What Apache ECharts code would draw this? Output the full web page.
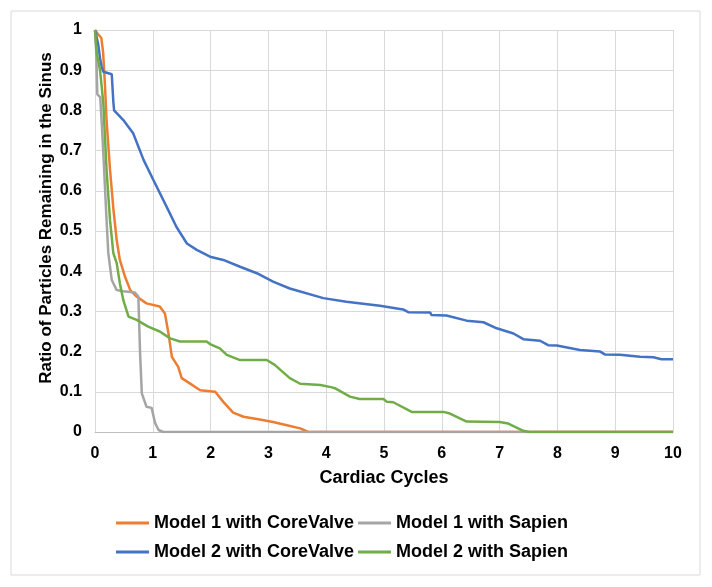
<!DOCTYPE html>
<html>
<head>
<meta charset="utf-8">
<script src="https://cdn.jsdelivr.net/npm/echarts@6/dist/echarts.min.js"></script>
<style>
html,body{margin:0;padding:0;background:#fff;}
#chart{width:712px;height:587px;}
</style>
</head>
<body>
<div id="chart"></div>
<script>
var seriesNames = ['Model 1 with CoreValve', 'Model 1 with Sapien', 'Model 2 with CoreValve', 'Model 2 with Sapien'];
var xTicks = [0,1,2,3,4,5,6,7,8,9,10];
var yTicks = [0,0.1,0.2,0.3,0.4,0.5,0.6,0.7,0.8,0.9,1];

var model1CoreValve = [[0,1],[0.05,0.99],[0.11,0.98],[0.14,0.945],[0.17,0.87],[0.2,0.776],[0.26,0.652],[0.32,0.552],[0.375,0.478],[0.43,0.428],[0.52,0.386],[0.61,0.353],[0.72,0.337],[0.89,0.32],[1.12,0.312],[1.21,0.295],[1.27,0.246],[1.33,0.187],[1.44,0.162],[1.5,0.134],[1.64,0.121],[1.82,0.104],[2.08,0.1],[2.22,0.075],[2.39,0.048],[2.57,0.038],[2.85,0.031],[3.08,0.025],[3.32,0.017],[3.55,0.009],[3.69,0],[10,0]];
var model1Sapien = [[0,1],[0.02,0.95],[0.04,0.84],[0.09,0.833],[0.12,0.76],[0.144,0.693],[0.2,0.527],[0.23,0.445],[0.29,0.378],[0.375,0.353],[0.49,0.35],[0.69,0.347],[0.75,0.337],[0.78,0.196],[0.81,0.096],[0.89,0.063],[0.98,0.06],[1.04,0.022],[1.1,0.005],[1.18,0],[10,0]];
var model2CoreValve = [[0,1],[0.057,0.963],[0.087,0.93],[0.115,0.909],[0.144,0.896],[0.29,0.89],[0.317,0.822],[0.33,0.8],[0.49,0.776],[0.66,0.743],[0.84,0.677],[1.01,0.627],[1.24,0.56],[1.41,0.51],[1.59,0.469],[1.76,0.453],[1.99,0.436],[2.22,0.428],[2.51,0.411],[2.8,0.395],[3.08,0.374],[3.37,0.357],[3.95,0.333],[4.35,0.324],[4.93,0.314],[5.33,0.305],[5.42,0.298],[5.8,0.297],[5.82,0.291],[6.08,0.29],[6.43,0.277],[6.72,0.273],[6.95,0.258],[7.24,0.245],[7.41,0.231],[7.7,0.227],[7.84,0.216],[7.99,0.215],[8.39,0.204],[8.74,0.2],[8.82,0.193],[9.08,0.192],[9.43,0.187],[9.66,0.186],[9.8,0.181],[10,0.181]];
var model2Sapien = [[0,1],[0.03,0.942],[0.087,0.9],[0.144,0.818],[0.2,0.652],[0.26,0.527],[0.317,0.445],[0.375,0.42],[0.43,0.37],[0.49,0.328],[0.58,0.287],[0.72,0.279],[0.92,0.262],[1.12,0.25],[1.3,0.233],[1.47,0.225],[1.93,0.225],[2.0,0.218],[2.16,0.208],[2.28,0.192],[2.51,0.179],[2.97,0.179],[3.11,0.167],[3.37,0.134],[3.55,0.12],[3.9,0.117],[4.1,0.111],[4.15,0.109],[4.41,0.088],[4.58,0.082],[4.99,0.082],[5.05,0.075],[5.16,0.074],[5.48,0.05],[6.03,0.05],[6.14,0.046],[6.43,0.026],[7.0,0.025],[7.15,0.021],[7.41,0.003],[7.51,0],[10,0]];

var colors = ['#ED7D31', '#A5A5A5', '#4472C4', '#70AD47'];
var allData = [model1CoreValve, model1Sapien, model2CoreValve, model2Sapien];
var FONT = '"Liberation Sans", Arial, sans-serif';

var chart = echarts.init(document.getElementById('chart'), null, {renderer: 'canvas'});

var series = allData.map(function (d, i) {
  return {
    name: seriesNames[i],
    type: 'line',
    data: d,
    showSymbol: false,
    symbol: 'none',
    animation: false,
    lineStyle: {color: colors[i], width: 2.5},
    itemStyle: {color: colors[i]},
    z: 2 + i
  };
});

var legendCommon = {
  icon: 'rect',
  itemWidth: 33,
  itemHeight: 3,
  itemGap: 4,
  padding: 0,
  orient: 'horizontal',
  left: 116,
  textStyle: {fontFamily: FONT, fontWeight: 'bold', fontSize: 18, color: '#000', padding: [0, 0, 0, 0]}
};

chart.setOption({
  backgroundColor: '#fff',
  animation: false,
  color: colors,
  grid: {left: 95, right: 39, top: 30, bottom: 155, containLabel: false},
  graphic: [
    {type: 'rect', shape: {x: 11, y: 11, width: 689, height: 564}, style: {fill: 'none', stroke: '#d9d9d9', lineWidth: 1}, z: -1},
    {type: 'text', x: 46, y: 218, rotation: Math.PI / 2,
     style: {text: 'Ratio of Particles Remaining in the Sinus', font: 'bold 17px "Liberation Sans", Arial, sans-serif', fill: '#000', align: 'center', verticalAlign: 'middle'}}
  ],
  legend: [
    Object.assign({}, legendCommon, {top: 514, data: [seriesNames[0], seriesNames[1]]}),
    Object.assign({}, legendCommon, {top: 543, data: [seriesNames[2], seriesNames[3]]})
  ],
  xAxis: {
    type: 'value',
    min: 0, max: 10, interval: 1,
    name: 'Cardiac Cycles',
    nameLocation: 'middle',
    nameGap: 37,
    nameTextStyle: {fontFamily: FONT, fontWeight: 'bold', fontSize: 18, color: '#000'},
    axisLine: {show: true, lineStyle: {color: '#bfbfbf', width: 1}},
    axisTick: {show: false},
    axisLabel: {fontFamily: FONT, fontWeight: 'bold', fontSize: 16, color: '#000', margin: 14,
      formatter: function (v) { return xTicks.indexOf(v) >= 0 ? String(v) : ''; }},
    splitLine: {show: true, lineStyle: {color: '#d9d9d9', width: 1}}
  },
  yAxis: {
    type: 'value',
    min: 0, max: 1, interval: 0.1,
    axisLine: {show: false},
    axisTick: {show: false},
    axisLabel: {fontFamily: FONT, fontWeight: 'bold', fontSize: 16, color: '#000', margin: 13,
      formatter: function (v) { var r = Math.round(v * 10) / 10; return yTicks.indexOf(r) >= 0 ? String(r) : ''; }},
    splitLine: {show: true, lineStyle: {color: '#d9d9d9', width: 1}}
  },
  series: series
});
</script>
</body>
</html>
